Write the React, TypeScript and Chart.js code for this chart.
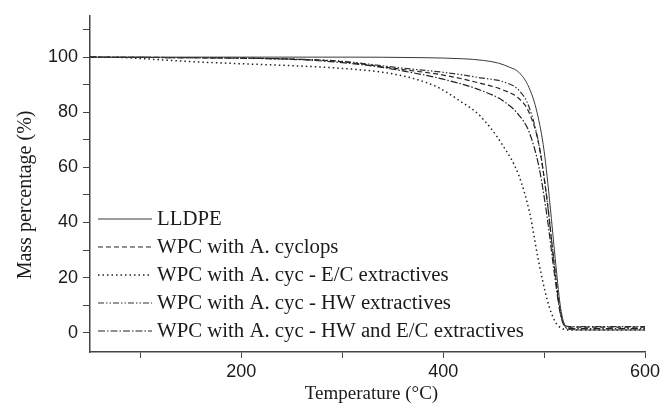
import React, { useEffect, useRef } from "react";
import { Chart, registerables } from "chart.js";

Chart.register(...registerables);

// Temperatures (°C) and mass percentages (%)
const lldpeT = [50, 200, 300, 380, 420, 440, 455, 466, 475, 485, 493, 500, 506, 511, 516, 520, 524, 540, 600];
const lldpeM = [100, 100, 100, 99.8, 99.4, 98.8, 97.8, 96.3, 94.5, 89, 80, 66, 46, 27, 10, 3, 1.2, 1, 1];

const cyclopsT = [50, 150, 250, 300, 330, 360, 400, 437, 460, 475, 485, 495, 503, 510, 516, 520, 525, 600];
const cyclopsM = [100, 99.8, 99.3, 98.3, 97, 95.5, 93.5, 90.5, 88, 85, 80, 68, 48, 25, 8, 3, 2, 2];

const ecT = [50, 80, 100, 130, 160, 200, 250, 300, 340, 370, 395, 415, 437, 459, 475, 486, 494, 503, 511, 518, 525, 600];
const ecM = [100, 99.9, 99.5, 98.8, 98.2, 97.6, 96.9, 95.9, 94.5, 92.3, 89, 84.5, 78.5, 68, 57, 43, 27, 12, 4, 1.5, 1, 1];

const hwT = [50, 250, 300, 330, 360, 400, 437, 460, 475, 485, 495, 503, 510, 516, 520, 525, 600];
const hwM = [100, 99.3, 98.5, 97.3, 96, 94.5, 92.5, 91, 88, 82, 68, 48, 25, 8, 3, 2.2, 2.2];

const hwecT = [50, 250, 300, 330, 360, 400, 437, 460, 475, 485, 495, 503, 510, 516, 520, 525, 600];
const hwecM = [100, 99.2, 98, 96.8, 95, 92, 88, 84, 79, 73, 60, 42, 22, 7, 2.5, 1.5, 1.5];

const seriesLabels = [
  "LLDPE",
  "WPC with A. cyclops",
  "WPC with A. cyc - E/C extractives",
  "WPC with A. cyc - HW extractives",
  "WPC with A. cyc - HW and E/C extractives",
];

const xTitle = "Temperature (°C)";
const yTitle = "Mass percentage (%)";

const xTicks = [100, 200, 300, 400, 500, 600];
const xLabeled = [200, 400, 600];
const yTicks = [0, 10, 20, 30, 40, 50, 60, 70, 80, 90, 100, 110];
const yLabeled = [0, 20, 40, 60, 80, 100];

const toPoints = (xs: number[], ys: number[]) => xs.map((x, i) => ({ x, y: ys[i] }));

const dashes: number[][] = [
  [],
  [5, 3],
  [1.5, 3],
  [6, 2, 1.5, 2, 1.5, 2],
  [7, 2, 1.5, 2],
];
const colors = ["#3a3a3a", "#222", "#222", "#333", "#222"];
const widths = [1, 1.2, 1.5, 1.2, 1.2];

const overlayPlugin = {
  id: "overlay",
  afterDraw(chart: any) {
    const { ctx, chartArea } = chart;
    const x0 = chartArea.left + 8;
    const lineLen = 54;
    const startY = 219;
    const step = 28;
    ctx.save();
    chart.data.datasets.forEach((ds: any, i: number) => {
      const y = startY + i * step;
      ctx.beginPath();
      ctx.setLineDash(ds.borderDash || []);
      ctx.strokeStyle = ds.borderColor;
      ctx.lineWidth = ds.borderWidth;
      ctx.moveTo(x0, y);
      ctx.lineTo(x0 + lineLen, y);
      ctx.stroke();
      ctx.setLineDash([]);
      ctx.fillStyle = "#1a1a1a";
      ctx.font = '20.8px "Liberation Serif"';
      ctx.textBaseline = "middle";
      ctx.textAlign = "left";
      ctx.fillText(ds.label, x0 + lineLen + 5, y + 1);
    });
    // axis titles
    ctx.fillStyle = "#1a1a1a";
    ctx.font = '19px "Liberation Serif"';
    ctx.textAlign = "center";
    ctx.textBaseline = "middle";
    ctx.fillText(xTitle, (chartArea.left + chartArea.right) / 2 + 4, 394);
    const ys = chart.scales.y;
    ctx.translate(26, (ys.getPixelForValue(0) + ys.getPixelForValue(100)) / 2);
    ctx.rotate(-Math.PI / 2);
    ctx.font = '20px "Liberation Serif"';
    ctx.fillText(yTitle, 0, 0);
    ctx.restore();
  },
};

export default function App() {
  const ref = useRef<HTMLCanvasElement | null>(null);
  useEffect(() => {
    document.body.style.margin = "0";
    const canvas = ref.current;
    if (!canvas) return;
    const data = [
      toPoints(lldpeT, lldpeM),
      toPoints(cyclopsT, cyclopsM),
      toPoints(ecT, ecM),
      toPoints(hwT, hwM),
      toPoints(hwecT, hwecM),
    ];
    const chart = new Chart(canvas, {
      type: "line",
      data: {
        datasets: data.map((d, i) => ({
          label: seriesLabels[i],
          data: d,
          borderColor: colors[i],
          borderWidth: widths[i],
          borderDash: dashes[i],
          pointRadius: 0,
          fill: false,
          cubicInterpolationMode: "monotone" as const,
        })),
      },
      options: {
        animation: false,
        responsive: false,
        layout: { padding: { left: 0, top: 13, right: 19, bottom: 0 } },
        plugins: { legend: { display: false }, tooltip: { enabled: false } },
        scales: {
          x: {
            type: "linear",
            min: 50,
            max: 600,
            afterBuildTicks: (s: any) => {
              s.ticks = xTicks.map((v) => ({ value: v }));
            },
            afterFit: (s: any) => {
              s.height = 59;
            },
            ticks: {
              callback: (v: any) => (xLabeled.includes(v) ? String(v) : ""),
              font: { family: "Liberation Sans", size: 18 },
              color: "#1a1a1a",
              padding: 3,
              maxRotation: 0,
              autoSkip: false,
            },
            grid: { drawOnChartArea: false, drawTicks: true, tickLength: 6, color: "#444", tickWidth: 1 },
            border: { display: true, color: "#444", width: 1.5 },
          },
          y: {
            type: "linear",
            min: -7,
            max: 115,
            afterBuildTicks: (s: any) => {
              s.ticks = yTicks.map((v) => ({ value: v }));
            },
            afterFit: (s: any) => {
              s.width = 90;
            },
            ticks: {
              callback: (v: any) => (yLabeled.includes(v) ? String(v) : ""),
              font: { family: "Liberation Sans", size: 18 },
              color: "#1a1a1a",
              padding: 5,
              autoSkip: false,
            },
            grid: { drawOnChartArea: false, drawTicks: true, tickLength: 7, color: "#444", tickWidth: 1 },
            border: { display: true, color: "#444", width: 1.5 },
          },
        },
      },
      plugins: [overlayPlugin],
    });
    return () => chart.destroy();
  }, []);
  return (
    <div style={{ width: 664, height: 411 }}>
      <canvas ref={ref} width={664} height={411} />
    </div>
  );
}
